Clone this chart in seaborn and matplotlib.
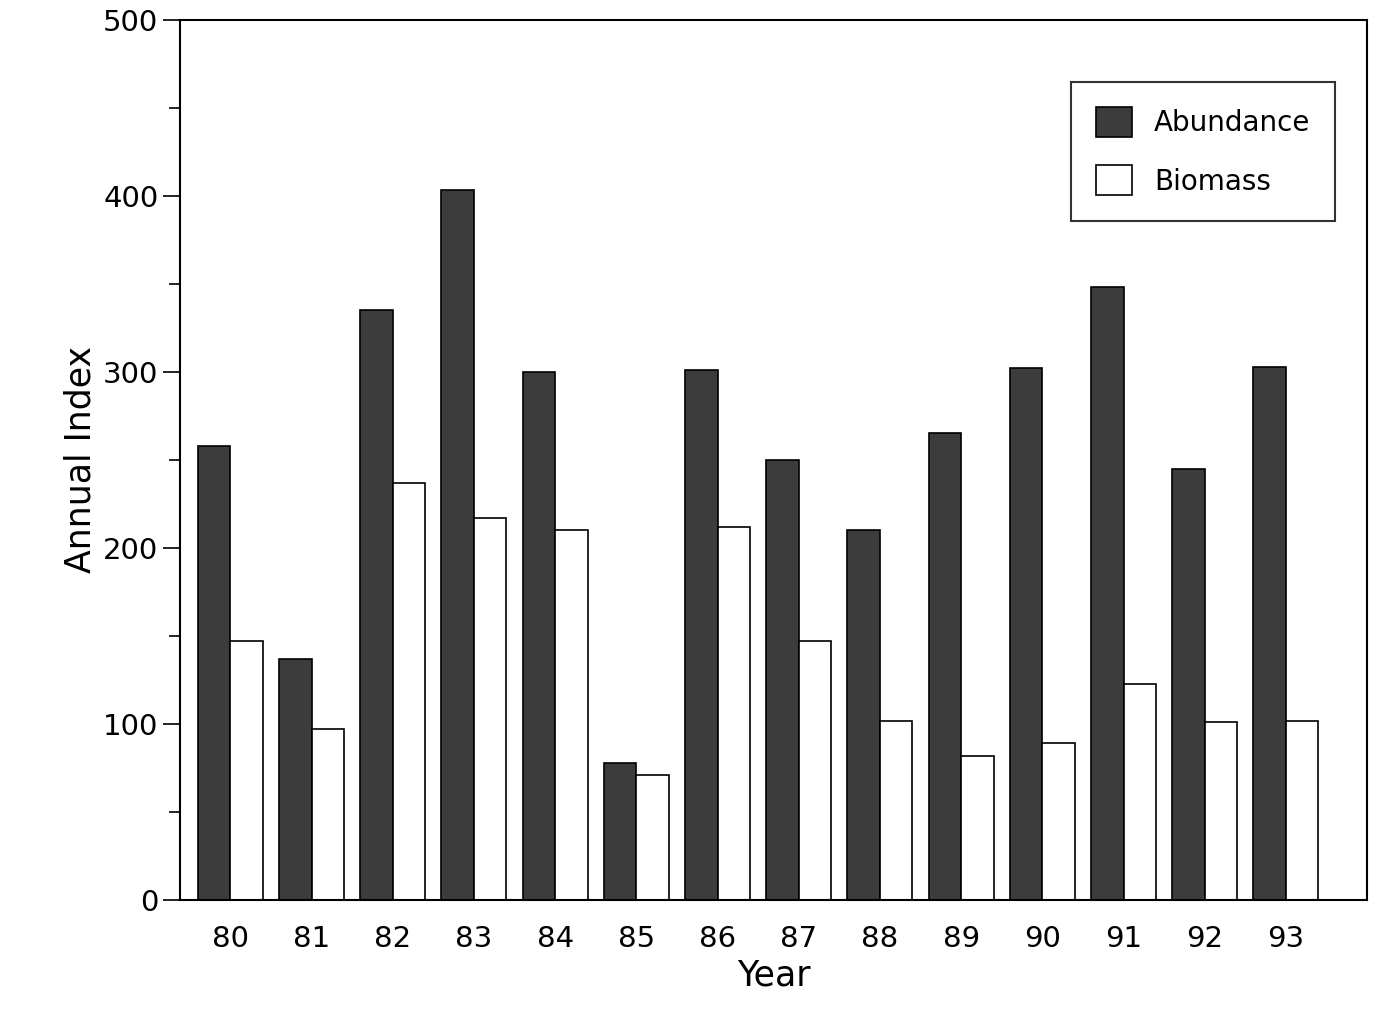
import pandas as pd
import matplotlib.pyplot as plt
import seaborn as sns

years = ["80", "81", "82", "83", "84", "85", "86", "87", "88", "89", "90", "91", "92", "93"]
abundance = [258, 137, 335, 403, 300, 78, 301, 250, 210, 265, 302, 348, 245, 303]
biomass = [147, 97, 237, 217, 210, 71, 212, 147, 102, 82, 89, 123, 101, 102]

df = pd.DataFrame({
    "Year": years * 2,
    "Index": abundance + biomass,
    "Series": ["Abundance"] * len(years) + ["Biomass"] * len(years),
})

sns.set_style("ticks")
plt.rcParams['font.family'] = ['DejaVu Sans']
plt.rcParams['text.color'] = 'black'
plt.rcParams['xtick.color'] = 'black'
plt.rcParams['ytick.color'] = 'black'
plt.rcParams['axes.labelcolor'] = 'black'

fig = plt.figure(figsize=(13.74, 10.30), dpi=100)
ax = fig.add_axes([0.131, 0.126, 0.864, 0.855])

sns.barplot(data=df, x="Year", y="Index", hue="Series",
            palette={"Abundance": "#3c3c3c", "Biomass": "white"},
            edgecolor="black", linewidth=1.2, width=0.8, ax=ax)

ax.set_ylim(0, 500)
ax.set_xlim(-0.62, 14.0)
ax.set_yticks([0, 100, 200, 300, 400, 500])
ax.set_yticks(range(50, 500, 100), minor=True)
ax.tick_params(axis='y', which='major', length=12, labelsize=21, width=1.2)
ax.tick_params(axis='y', which='minor', length=8, width=1.2)
ax.tick_params(axis='x', length=0, labelsize=21, pad=18)
ax.set_xlabel("Year", fontsize=25)
ax.set_ylabel("Annual Index", fontsize=25)
for s in ax.spines.values():
    s.set_linewidth(1.5)
    s.set_color("black")

leg = ax.legend(title=None, fontsize=20, loc="upper right", bbox_to_anchor=(0.985, 0.945),
                frameon=True, fancybox=False, edgecolor="black", handlelength=1.3,
                handleheight=1.3, labelspacing=1.0, borderpad=0.9)
leg.get_frame().set_linewidth(1.5)

fig.savefig("out.png", dpi=100)
